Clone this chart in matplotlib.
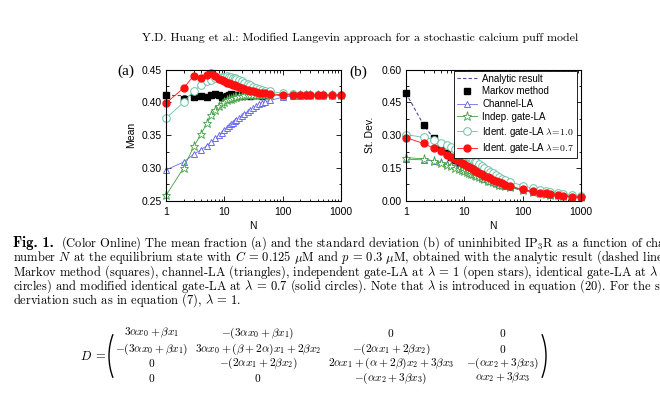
"""Mean and st. dev. of uninhibited IP3R versus channel number N (page excerpt)."""

import matplotlib
matplotlib.use('Agg')
import matplotlib.pyplot as plt
from matplotlib import ticker
from matplotlib.patches import Arc

plt.rcParams['font.family'] = ['Liberation Sans', 'DejaVu Sans']
plt.rcParams['mathtext.fontset'] = 'cm'
plt.rcParams['axes.formatter.use_mathtext'] = True

# ---- data ----
N_GRID = [1, 2, 3, 4, 5, 6, 7, 8, 9, 10, 11, 12, 13, 14, 15, 16, 18, 20, 22, 25,
          28, 31, 35, 40, 45, 50, 60, 100, 150, 200, 250, 300, 400, 500, 700, 1000]
N_MARKOV = [1, 2, 3, 4, 5, 6, 7, 8, 9, 10, 11, 12, 13, 14, 15, 16, 18, 20, 22, 25,
            28, 31, 35, 40, 45, 50]
N_ANALYTIC_MEAN = [1, 1000]
N_ANALYTIC_STD = [1, 2, 3, 4, 5, 6, 8, 10, 15, 20, 30, 50, 100, 200, 500, 1000]

# panel (a): mean
MEAN_ANALYTIC = [0.411, 0.411]
MEAN_MARKOV = [0.411, 0.405, 0.408, 0.410, 0.409, 0.411, 0.413, 0.412, 0.409, 0.408,
               0.410, 0.412, 0.413, 0.411, 0.410, 0.412, 0.411, 0.410, 0.412, 0.411,
               0.410, 0.411, 0.412, 0.411, 0.410, 0.411]
MEAN_CHANNEL = [0.297, 0.309, 0.321, 0.328, 0.334, 0.340, 0.345, 0.350, 0.354, 0.358,
                0.361, 0.364, 0.367, 0.369, 0.371, 0.373, 0.377, 0.380, 0.383, 0.386,
                0.389, 0.391, 0.394, 0.397, 0.399, 0.401, 0.403, 0.408, 0.410, 0.410,
                0.411, 0.411, 0.411, 0.411, 0.411, 0.411]
MEAN_INDEP = [0.258, 0.300, 0.333, 0.352, 0.368, 0.381, 0.389, 0.395, 0.398, 0.401,
              0.403, 0.405, 0.406, 0.407, 0.408, 0.409, 0.410, 0.410, 0.411, 0.411,
              0.411, 0.411, 0.411, 0.411, 0.411, 0.411, 0.411, 0.411, 0.411, 0.411,
              0.411, 0.411, 0.411, 0.411, 0.411, 0.411]
MEAN_IDENT_10 = [0.376, 0.400, 0.418, 0.427, 0.432, 0.435, 0.437, 0.438, 0.439, 0.439,
                 0.440, 0.439, 0.439, 0.438, 0.437, 0.436, 0.434, 0.432, 0.430, 0.428,
                 0.426, 0.424, 0.422, 0.420, 0.419, 0.418, 0.417, 0.414, 0.413, 0.412,
                 0.412, 0.412, 0.411, 0.411, 0.411, 0.411]
MEAN_IDENT_07 = [0.399, 0.422, 0.441, 0.438, 0.442, 0.445, 0.440, 0.436, 0.434, 0.432,
                 0.430, 0.429, 0.428, 0.427, 0.426, 0.425, 0.423, 0.422, 0.421, 0.419,
                 0.418, 0.417, 0.416, 0.415, 0.414, 0.414, 0.413, 0.412, 0.412, 0.411,
                 0.411, 0.411, 0.411, 0.411, 0.411, 0.411]

# panel (b): standard deviation
STD_ANALYTIC = [0.492, 0.348, 0.284, 0.246, 0.220, 0.201, 0.174, 0.156, 0.127, 0.110,
                0.090, 0.070, 0.049, 0.035, 0.022, 0.016]
STD_MARKOV = [0.492, 0.345, 0.285, 0.245, 0.220, 0.201, 0.186, 0.174, 0.164, 0.156,
              0.148, 0.142, 0.136, 0.131, 0.127, 0.123, 0.116, 0.110, 0.105, 0.098,
              0.093, 0.088, 0.083, 0.078, 0.073, 0.070]
STD_CHANNEL = [0.190, 0.187, 0.182, 0.176, 0.170, 0.164, 0.158, 0.152, 0.146, 0.141,
               0.136, 0.132, 0.128, 0.124, 0.120, 0.117, 0.111, 0.106, 0.101, 0.095,
               0.090, 0.086, 0.081, 0.076, 0.072, 0.068, 0.062, 0.048, 0.040, 0.034,
               0.031, 0.028, 0.024, 0.022, 0.019, 0.016]
STD_INDEP = [0.197, 0.192, 0.182, 0.172, 0.164, 0.157, 0.151, 0.145, 0.140, 0.135,
             0.131, 0.127, 0.123, 0.120, 0.116, 0.113, 0.108, 0.103, 0.098, 0.092,
             0.088, 0.084, 0.079, 0.074, 0.070, 0.066, 0.061, 0.047, 0.039, 0.034,
             0.030, 0.028, 0.024, 0.021, 0.018, 0.015]
STD_IDENT_10 = [0.303, 0.290, 0.280, 0.265, 0.256, 0.246, 0.237, 0.229, 0.221, 0.213,
                0.206, 0.200, 0.194, 0.188, 0.182, 0.177, 0.167, 0.157, 0.150, 0.140,
                0.132, 0.125, 0.117, 0.109, 0.101, 0.095, 0.087, 0.069, 0.057, 0.050,
                0.044, 0.040, 0.035, 0.031, 0.026, 0.021]
STD_IDENT_07 = [0.289, 0.262, 0.240, 0.227, 0.210, 0.200, 0.190, 0.181, 0.173, 0.166,
                0.159, 0.153, 0.148, 0.143, 0.138, 0.134, 0.127, 0.121, 0.115, 0.108,
                0.102, 0.097, 0.091, 0.085, 0.079, 0.074, 0.067, 0.052, 0.043, 0.037,
                0.033, 0.030, 0.026, 0.023, 0.019, 0.016]

X_TICKS = [1, 10, 100, 1000]
X_TICK_LABELS = ['1', '10', '100', '1000']
MEAN_TICKS = [0.25, 0.30, 0.35, 0.40, 0.45]
STD_TICKS = [0.00, 0.15, 0.30, 0.45, 0.60]

LEGEND_LABELS = ['Analytic result', 'Markov method', 'Channel-LA', 'Indep. gate-LA',
                 r'Ident. gate-LA $\lambda\!=\!1.0$', r'Ident. gate-LA $\lambda\!=\!0.7$']

HEADER = 'Y.D. Huang et al.: Modified Langevin approach for a stochastic calcium puff model'
CAPTION_TAG = 'Fig. 1.'
CAPTION = [
    r'(Color Online) The mean fraction (a) and the standard deviation (b) '
    r'of uninhibited IP$_3$R as a function of channel',
    r'number $N$ at the equilibrium state with $C\,=\,0.125$ $\mu$M and $p\,=\,0.3$ $\mu$M, '
    r'obtained with the analytic result (dashed line),',
    r'Markov method (squares), channel-LA (triangles), independent gate-LA at $\lambda\,=\,1$ '
    r'(open stars), identical gate-LA at $\lambda\,=\,1$ (open',
    r'circles) and modified identical gate-LA at $\lambda\,=\,0.7$ (solid circles). Note that '
    r'$\lambda$ is introduced in equation (20). For the standard',
    r'derviation such as in equation (7), $\lambda\,=\,1$.',
]
MATRIX = [
    [r'$3\alpha x_0+\beta x_1$', r'$-(3\alpha x_0+\beta x_1)$', r'$0$', r'$0$'],
    [r'$-(3\alpha x_0+\beta x_1)$', r'$3\alpha x_0+(\beta+2\alpha)x_1+2\beta x_2$',
     r'$-(2\alpha x_1+2\beta x_2)$', r'$0$'],
    [r'$0$', r'$-(2\alpha x_1+2\beta x_2)$', r'$2\alpha x_1+(\alpha+2\beta)x_2+3\beta x_3$',
     r'$-(\alpha x_2+3\beta x_3)$'],
    [r'$0$', r'$0$', r'$-(\alpha x_2+3\beta x_3)$', r'$\alpha x_2+3\beta x_3$'],
]

ANALYTIC_COLOR = '#4d4d99'
CHANNEL_COLOR = '#6b6bf0'
INDEP_COLOR = '#3f9f3f'
IDENT10_COLOR = '#6cc2a6'
IDENT07_COLOR = '#ff1010'


def plot_series(ax, analytic, markov, channel, indep, ident10, ident07, n_analytic):
    """Draw the six series of one panel."""
    ax.plot(n_analytic, analytic, color=ANALYTIC_COLOR, lw=0.8, ls=(0, (3, 2)),
            label=LEGEND_LABELS[0])
    ax.plot(N_MARKOV, markov, ls='none', marker='s', ms=4.2, color='black',
            label=LEGEND_LABELS[1], clip_on=False)
    ax.plot(N_GRID, channel, color=CHANNEL_COLOR, lw=0.6, marker='^', ms=5,
            mfc='white', mew=0.7, label=LEGEND_LABELS[2], clip_on=False)
    ax.plot(N_GRID, indep, color=INDEP_COLOR, lw=0.6, marker='*', ms=6.5,
            mfc='white', mew=0.6, label=LEGEND_LABELS[3], clip_on=False)
    ax.plot(N_GRID, ident10, color=IDENT10_COLOR, lw=0.6, marker='o', ms=5.5,
            mfc='white', mew=0.7, label=LEGEND_LABELS[4], clip_on=False)
    ax.plot(N_GRID, ident07, color=IDENT07_COLOR, lw=0.6, marker='o', ms=5,
            mfc=IDENT07_COLOR, mec=IDENT07_COLOR, label=LEGEND_LABELS[5], clip_on=False)


def style_axis(ax, yticks):
    """Origin-like frame: log x, inward ticks on all four sides."""
    ax.set_xscale('log')
    ax.set_xlim(1, 1000)
    ax.set_ylim(yticks[0], yticks[-1])
    ax.xaxis.set_major_locator(ticker.FixedLocator(X_TICKS))
    ax.xaxis.set_major_formatter(ticker.FixedFormatter(X_TICK_LABELS))
    ax.xaxis.set_minor_locator(ticker.LogLocator(base=10, subs=range(2, 10)))
    ax.xaxis.set_minor_formatter(ticker.NullFormatter())
    ax.set_yticks(yticks)
    ax.set_yticklabels(['%.2f' % v for v in yticks])
    ax.yaxis.set_minor_locator(ticker.AutoMinorLocator(2))
    ax.tick_params(which='both', direction='in', top=True, right=True, width=0.6,
                   labelsize=7.5, pad=3)
    ax.tick_params(axis='x', which='major', pad=4.5)
    ax.tick_params(which='major', length=3.5)
    ax.tick_params(which='minor', length=1.8)
    for spine in ax.spines.values():
        spine.set_linewidth(0.8)


fig = plt.figure(figsize=(6.6, 3.93), dpi=100)

# page overlay in pixel coordinates for the surrounding text
page = fig.add_axes([0, 0, 1, 1])
page.set_xlim(0, 660)
page.set_ylim(393, 0)
page.axis('off')

ax_a = fig.add_axes([166 / 660, 1 - 200.7 / 393, 175 / 660, 131 / 393])
ax_b = fig.add_axes([406 / 660, 1 - 200.7 / 393, 175 / 660, 131 / 393])

plot_series(ax_a, MEAN_ANALYTIC, MEAN_MARKOV, MEAN_CHANNEL, MEAN_INDEP,
            MEAN_IDENT_10, MEAN_IDENT_07, N_ANALYTIC_MEAN)
plot_series(ax_b, STD_ANALYTIC, STD_MARKOV, STD_CHANNEL, STD_INDEP,
            STD_IDENT_10, STD_IDENT_07, N_ANALYTIC_STD)
style_axis(ax_a, MEAN_TICKS)
style_axis(ax_b, STD_TICKS)

leg = ax_b.legend(loc='upper right', bbox_to_anchor=(1 - 3.7 / 175, 1 - 1 / 131),
                  borderaxespad=0, fontsize=7, numpoints=1, handlelength=2.0,
                  handletextpad=0.6, labelspacing=0.28, borderpad=0.3,
                  fancybox=False, framealpha=1, edgecolor='black')
leg.get_frame().set_linewidth(0.6)

# axis labels and panel tags
page.text(131, 135, 'Mean', rotation=90, ha='center', va='center', fontsize=7.5)
page.text(370, 135, 'St. Dev.', rotation=90, ha='center', va='center', fontsize=7.5)
page.text(253, 226, 'N', ha='center', va='center', fontsize=7.5)
page.text(493, 226, 'N', ha='center', va='center', fontsize=7.5)
page.text(126, 71, '(a)', ha='center', va='center', fontsize=11, family='Liberation Serif')
page.text(358, 72, '(b)', ha='center', va='center', fontsize=11, family='Liberation Serif')

# running header and caption (baselines in page pixels)
page.text(578, 38, HEADER, ha='right', va='center', fontsize=8.6, family='cmr10')
page.text(13, 246.5, CAPTION_TAG, ha='left', va='baseline', fontsize=10.5,
          family='cmb10')
for i, line in enumerate(CAPTION):
    x0 = 61 if i == 0 else 13
    page.text(x0, 246.5 + 14.4 * i, line, ha='left', va='baseline',
              fontsize=9, family='cmr10')

# matrix D
page.text(93, 357, r'$D\;=$', ha='center', va='center', fontsize=9)
col_x = [152, 258, 391, 503]
row_y = [333, 349, 363, 378]
for r, row in enumerate(MATRIX):
    for c, entry in enumerate(row):
        page.text(col_x[c], row_y[r], entry, ha='center', va='center', fontsize=8.2)
page.add_patch(Arc((109 + 30, 356), 60, 87, theta1=140, theta2=220, lw=1.0, color='black'))
page.add_patch(Arc((546 - 30, 356), 60, 87, theta1=-40, theta2=40, lw=1.0, color='black'))

fig.savefig('out.png', dpi=100)
